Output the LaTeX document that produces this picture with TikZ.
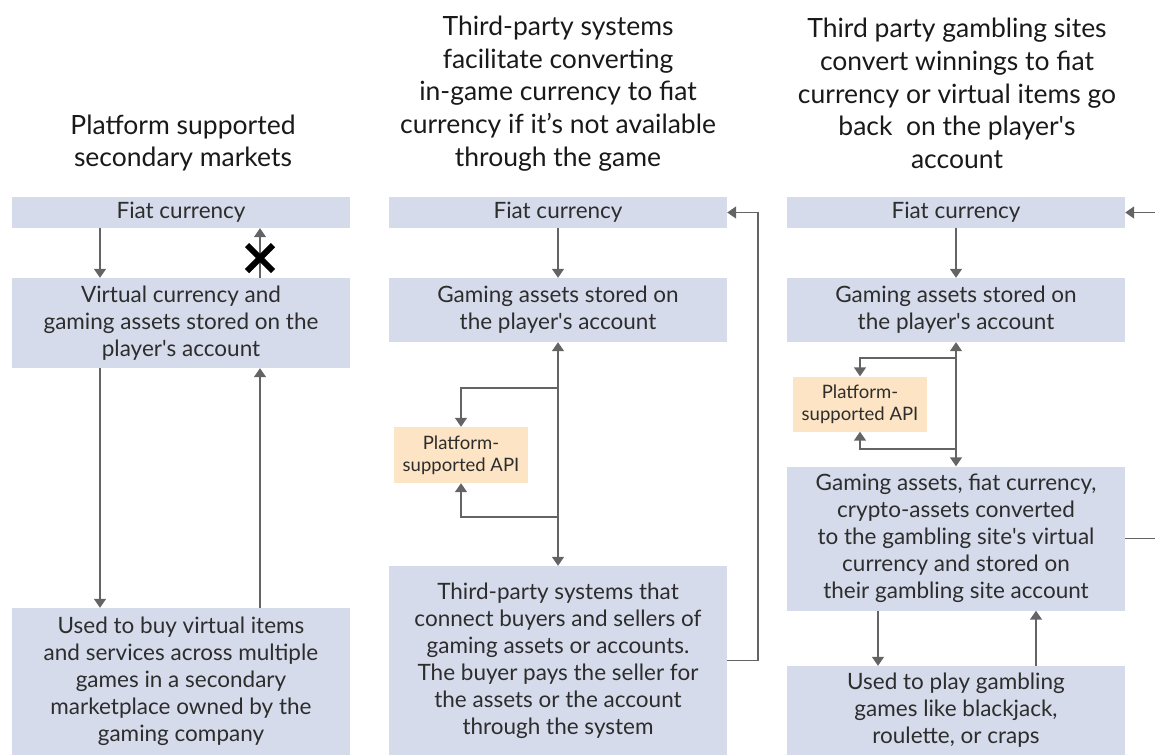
\documentclass[tikz,border=0pt]{standalone}
\usepackage{fontspec}
\setmainfont{Lato}
\usetikzlibrary{arrows.meta,calc}
\definecolor{boxblue}{RGB}{213,219,235}
\definecolor{peach}{RGB}{252,228,196}
\definecolor{arrowgray}{RGB}{100,100,100}
\definecolor{txt}{RGB}{45,45,45}
\newcommand\apq{\textquotesingle}
\begin{document}
\begin{tikzpicture}[x=1pt,y=-1pt,
  box/.style={fill=boxblue, inner sep=0pt, minimum width=338pt, text=txt, align=center, font=\fontsize{22.5}{27}\selectfont},
  apibox/.style={fill=peach, inner sep=0pt, text=txt, align=center, font=\fontsize{18.5}{22}\selectfont},
  titlenode/.style={inner sep=0pt, align=center, text=black!90, font=\fontsize{26.5}{32.8}\selectfont},
  conn/.style={draw=arrowgray, line width=1.5pt},
  arr/.style={conn, -{Triangle[width=12pt,length=9pt]}},
  arrboth/.style={conn, {Triangle[width=12pt,length=9pt]}-{Triangle[width=12pt,length=9pt]}}
]
\useasboundingbox (0,0) rectangle (1155,755);

% titles
\node[titlenode] (h1) at (183,143) {Platform supported\\secondary markets};
\node[titlenode] (h2) at (558,93.5) {Third-party systems\\facilitate converting\\in-game currency to fiat\\currency if it’s not available\\through the game};
\node[titlenode] (h3) at (957,93.5) {Third party gambling sites\\convert winnings to fiat\\currency or virtual items go\\back\ \ on the player\apq s\\account};

% column 1
\node[box, minimum height=31pt] (f1) at (181,212.5) {Fiat currency};
\node[box, minimum height=90pt] (v1) at (181,323) {Virtual currency and\\gaming assets stored on the\\player\apq s account};
\node[box, minimum height=147pt] (u1) at (181,681.5) {Used to buy virtual items\\and services across multiple\\games in a secondary\\marketplace owned by the\\gaming company};
\draw[arr] ([xshift=-81pt]f1.south) -- ([xshift=-81pt]v1.north);
\draw[arr] ([xshift=79pt]v1.north) -- ([xshift=79pt]f1.south);
\draw[arr] ([xshift=-81pt]v1.south) -- ([xshift=-81pt]u1.north);
\draw[arr] ([xshift=79pt]u1.north) -- ([xshift=79pt]v1.south);
\draw[line width=6pt, black] (247,245) -- (273,271) (273,245) -- (247,271);

% column 2
\node[box, minimum height=31pt] (f2) at (558,212.5) {Fiat currency};
\node[box, minimum height=64pt] (g2) at (558,310) {Gaming assets stored on\\the player\apq s account};
\node[apibox, minimum width=134pt, minimum height=56pt] (api2) at (461,455) {Platform-\\supported API};
\node[box, minimum height=189pt] (t2) at (558,660.5) {Third-party systems that\\connect buyers and sellers of\\gaming assets or accounts.\\The buyer pays the seller for\\the assets or the account\\through the system};
\draw[arr] (f2.south) -- (g2.north);
\draw[arrboth] (g2.south) -- (t2.north);
\coordinate (b2a) at (558,388);
\coordinate (b2b) at (558,517);
\draw[arr] (b2a) -| (api2.north);
\draw[arr] (b2b) -| (api2.south);
\coordinate (r2) at (758,212.5);
\draw[arr] (t2.east) -- (t2.east -| r2) -- (r2) -- (f2.east);

% column 3
\node[box, minimum height=31pt] (f3) at (956,212.5) {Fiat currency};
\node[box, minimum height=64pt] (g3) at (956,310) {Gaming assets stored on\\the player\apq s account};
\node[apibox, minimum width=134pt, minimum height=55pt] (api3) at (860,404) {Platform-\\supported API};
\node[box, minimum height=144pt] (gam3) at (956,538.5) {Gaming assets, fiat currency,\\crypto-assets converted\\to the gambling site\apq s virtual\\currency and stored on\\their gambling site account};
\node[box, minimum height=89pt] (p3) at (956,710.5) {Used to play gambling\\games like blackjack,\\roulette, or craps};
\draw[arr] (f3.south) -- (g3.north);
\draw[arrboth] (g3.south) -- (gam3.north);
\coordinate (b3a) at (956,358);
\coordinate (b3b) at (956,449);
\draw[arr] (b3a) -| (api3.north);
\draw[arr] (b3b) -| (api3.south);
\coordinate (e3) at (1155,212.5);
\draw[arr] (e3) -- (f3.east);
\coordinate (e3b) at (1155,538.5);
\draw[conn] (gam3.east) -- (e3b);
\draw[arr] ([xshift=-78pt]gam3.south) -- ([xshift=-78pt]p3.north);
\draw[arr] ([xshift=80pt]p3.north) -- ([xshift=80pt]gam3.south);
\end{tikzpicture}
\end{document}
